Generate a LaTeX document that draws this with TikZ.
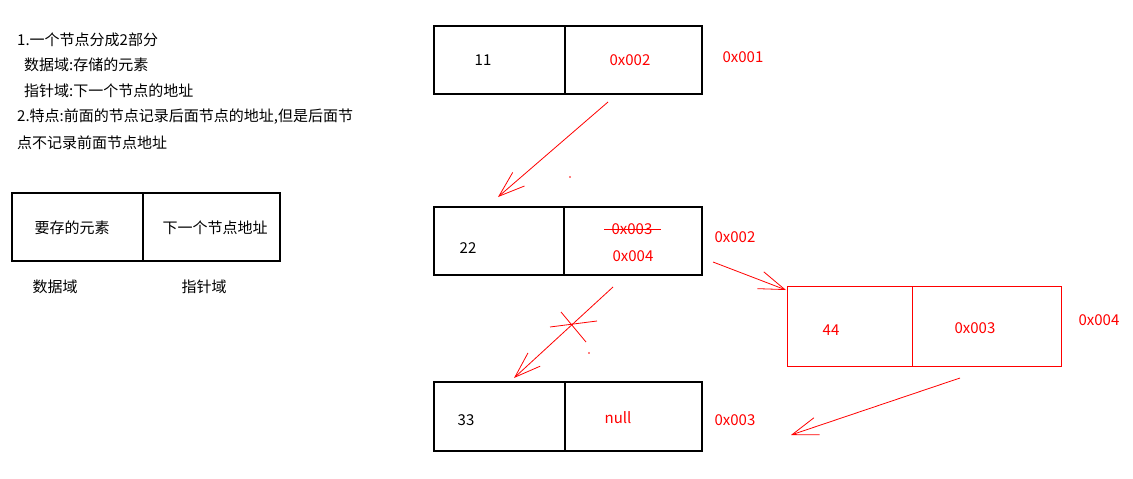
\documentclass[tikz,border=0pt]{standalone}
\usepackage{fontspec}
\setmainfont{Noto Sans CJK SC}
\usetikzlibrary{arrows.meta,positioning}
\tikzset{>={Straight Barb[length=26pt,width=18pt]},
         cell/.style={draw,line width=1.2pt,inner sep=0pt,outer sep=0pt,minimum height=68pt},
         rcell/.style={cell,draw=red,line width=1pt,minimum height=80pt},
         txt/.style={inner sep=0pt,font=\fontsize{15}{18}\selectfont},
         rtxt/.style={txt,text=red},
         link/.style={red,line width=0.8pt}}

\begin{document}
\begin{tikzpicture}[x=1pt,y=-1pt]
  \useasboundingbox (0,0) rectangle (1133,479);
  % notes
  \node[txt,anchor=west] (n1) at (17,40) {1.一个节点分成2部分};
  \node[txt,anchor=west] (n2) at (24,65) {数据域:存储的元素};
  \node[txt,anchor=west] (n3) at (24,91) {指针域:下一个节点的地址};
  \node[txt,anchor=west] (n4) at (17,117) {2.特点:前面的节点记录后面节点的地址,但是后面节};
  \node[txt,anchor=west] (n5) at (17,143) {点不记录前面节点地址};

  % legend
  \node[cell,anchor=north west,minimum width=131pt] (kd) at (12,193) {};
  \node[cell,right=0pt of kd,minimum width=137pt] (kp) {};
  \node[txt] (kdt) at (72,228) {要存的元素};
  \node[txt] (kpt) at (215,228) {下一个节点地址};
  \node[txt] (kdl) at (55,287) {数据域};
  \node[txt] (kpl) at (204,287) {指针域};

  % node 11
  \node[cell,anchor=north west,minimum width=131pt] (ad) at (434,26) {};
  \node[cell,right=0pt of ad,minimum width=137pt] (ap) {};
  \node[txt] (av) at (483,60) {11};
  \node[rtxt] (an) at (630,60) {0x002};
  \node[rtxt] (aa) at (743,57) {0x001};

  % node 22
  \node[cell,anchor=north west,minimum width=130pt] (bd) at (434,207) {};
  \node[cell,right=0pt of bd,minimum width=138pt] (bp) {};
  \node[txt] (bv) at (468,248) {22};
  \node[rtxt] (bo) at (632,229) {0x003};
  \node[rtxt] (bn) at (633,256) {0x004};
  \node[rtxt] (ba) at (735,237) {0x002};
  \draw[link] ([xshift=-7pt]bo.west) -- ([xshift=8pt]bo.east);

  % node 33
  \node[cell,anchor=north west,minimum width=131pt,minimum height=69pt] (cd) at (434,382) {};
  \node[cell,right=0pt of cd,minimum width=137pt,minimum height=69pt] (cp) {};
  \node[txt] (cv) at (466,420) {33};
  \node[rtxt] (cn) at (618,418) {null};
  \node[rtxt] (ca) at (735,420) {0x003};

  % node 44
  \node[rcell,anchor=north west,minimum width=125pt] (dd) at (787,286) {};
  \node[rcell,right=0pt of dd,minimum width=149pt] (dp) {};
  \node[rtxt] (dv) at (831,330) {44};
  \node[rtxt] (dn) at (975,328) {0x003};
  \node[rtxt] (da) at (1099,320) {0x004};

  % links
  \coordinate (s1) at (608,102);  \coordinate (e1) at (498,197);
  \coordinate (s2) at (613,287);  \coordinate (e2) at (514,378);
  \coordinate (s3) at (713,262);  \coordinate (e3) at (786,290);
  \coordinate (s4) at (960,378);  \coordinate (e4) at (791,435);
  \draw[link,->] (s1) -- (e1);
  \draw[link,->] (s2) -- (e2);
  \draw[link,->] (s3) -- (e3);
  \draw[link,->] (s4) -- (e4);

  % cut mark
  \coordinate (x1) at (550,327);  \coordinate (x2) at (597,321);
  \coordinate (x3) at (561,312);  \coordinate (x4) at (586,342);
  \draw[link] (x1) -- (x2);
  \draw[link] (x3) -- (x4);
  \fill[red] (570,177) circle (0.8pt);
  \fill[red] (589,353) circle (0.8pt);
\end{tikzpicture}
\end{document}
